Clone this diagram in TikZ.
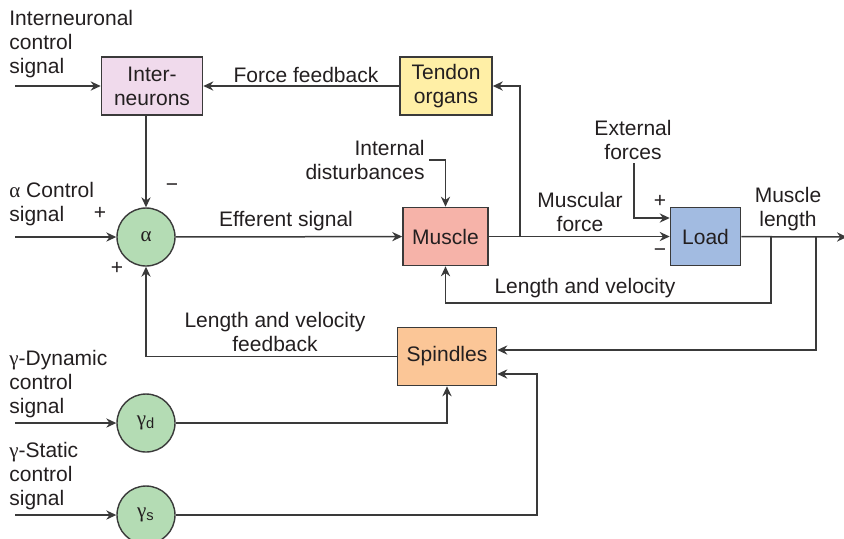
\documentclass[tikz,border=0pt]{standalone}
\usepackage{fontspec}
\setmainfont{Liberation Sans}
\newfontfamily\greekfont{Liberation Serif}
\usetikzlibrary{arrows.meta, positioning}

\definecolor{interpink}{HTML}{F0DAEC}
\definecolor{tendonyel}{HTML}{FFEFA6}
\definecolor{musclered}{HTML}{F6B3A9}
\definecolor{loadblue}{HTML}{A2BBE1}
\definecolor{spindleorg}{HTML}{FBC697}
\definecolor{neurongreen}{HTML}{B4DCB4}
\definecolor{linegray}{HTML}{3A3A3A}
\definecolor{textgray}{HTML}{231F20}

\begin{document}
\begin{tikzpicture}[
    x=0.5pt, y=-0.5pt,
    box/.style={draw=linegray, line width=0.8pt, font=\fontsize{10.5}{12}\selectfont,
        text=textgray, align=center, inner sep=0pt, minimum height=29pt},
    neuron/.style={circle, draw=linegray, fill=neurongreen, line width=0.7pt,
        minimum size=29pt, inner sep=0pt, text=textgray, font=\fontsize{10.5}{12}\selectfont},
    arr/.style={-{Stealth[length=5pt, width=4.6pt]}, line width=0.75pt, draw=linegray},
    lbl/.style={font=\fontsize{10.5}{12}\selectfont, align=center, text=textgray, inner sep=0pt},
    lbll/.style={lbl, align=left, anchor=west}
]
    \useasboundingbox (0,0) rectangle (844,538);

    % blocks
    \node[box, fill=interpink, minimum width=50.5pt] (inter) at (152,86) {Inter-\\neurons};
    \node[box, fill=tendonyel, minimum width=46pt] (tendon) at (446,86) {Tendon\\organs};
    \node[neuron] (alpha) at (146,237) {{\greekfont α}};
    \node[box, fill=musclered, minimum width=42.5pt] (muscle) at (445.5,236.5) {Muscle};
    \node[box, fill=loadblue, minimum width=35pt] (load) at (705.5,236.5) {Load};
    \node[box, fill=spindleorg, minimum width=49.5pt] (spindle) at (447,356.5) {Spindles};
    \node[neuron] (gdyn) at (146,423) {{\greekfont γ}\textsubscript{d}};
    \node[neuron] (gstat) at (146,515) {{\greekfont γ}\textsubscript{s}};

    % free ends and bends
    \coordinate (interin) at (15,86);
    \coordinate (alphain) at (15,237);
    \coordinate (gdynin) at (15,423);
    \coordinate (gstatin) at (15,515);
    \coordinate (out) at (847,237);
    \coordinate (tendtap) at (520,237);
    \coordinate (lentap) at (771,237);
    \coordinate (lenbend) at (771,303);
    \coordinate (spintap) at (816,237);
    \coordinate (spinbend) at (816,350);
    \coordinate (gstatbend) at (537,374);
    \coordinate (extf) at (634,163);
    \coordinate (disturb) at (429,160);

    % labels
    \node[lbll] (interlbl) at (9,44) {Interneuronal\\control\\signal};
    \node[lbl] (forcelbl) at (306,75) {Force feedback};
    \node[lbl, anchor=east, align=right] (disturblbl) at (425,160) {Internal\\disturbances};
    \node[lbll] (alphalbl) at (9,204) {{\greekfont α} Control\\signal};
    \node[lbl] (minusa) at (172,188) {−};
    \node[lbl] (plusa) at (100,213) {+};
    \node[lbl] (plusb) at (117,268) {+};
    \node[lbl] (efflbl) at (286,221) {Efferent signal};
    \node[lbl] (extlbl) at (633,140) {External\\forces};
    \node[lbl] (forcemlbl) at (580,212) {Muscular\\force};
    \node[lbl] (plusl) at (660,201) {+};
    \node[lbl] (minusl) at (660,253) {−};
    \node[lbl] (lenlbl) at (788,209) {Muscle\\length};
    \node[lbl] (lenvlbl) at (585,288) {Length and velocity};
    \node[lbl] (fblbl) at (275,332) {Length and velocity\\feedback};
    \node[lbll] (gdynlbl) at (9,384) {{\greekfont γ}-Dynamic\\control\\signal};
    \node[lbll] (gstatlbl) at (9,476) {{\greekfont γ}-Static\\control\\signal};

    % connectors
    \draw[arr] (interin) -- (inter);
    \draw[arr] (tendon) -- (inter);
    \draw[arr] (inter.south -| alpha) -- (alpha);
    \draw[arr] (alphain) -- (alpha);
    \draw[arr] (alpha) -- (muscle);
    \draw[arr] (disturb) -| (muscle.north);
    \draw[arr] (muscle) -- (load);
    \draw[arr] (tendtap) |- (tendon.east);
    \draw[arr] (extf) |- ([yshift=9.25pt]load.west);
    \draw[arr] (load) -- (out);
    \draw[arr] (lentap) -- (lenbend) -| (muscle.south);
    \draw[arr] (spintap) -- (spinbend) -- (spinbend -| spindle.east);
    \draw[arr] (spindle) -| (alpha);
    \draw[arr] (gdynin) -- (gdyn);
    \draw[arr] (gstatin) -- (gstat);
    \draw[arr] (gdyn) -| (spindle.south);
    \draw[arr] (gstat) -| (gstatbend) -- (gstatbend -| spindle.east);
\end{tikzpicture}
\end{document}
